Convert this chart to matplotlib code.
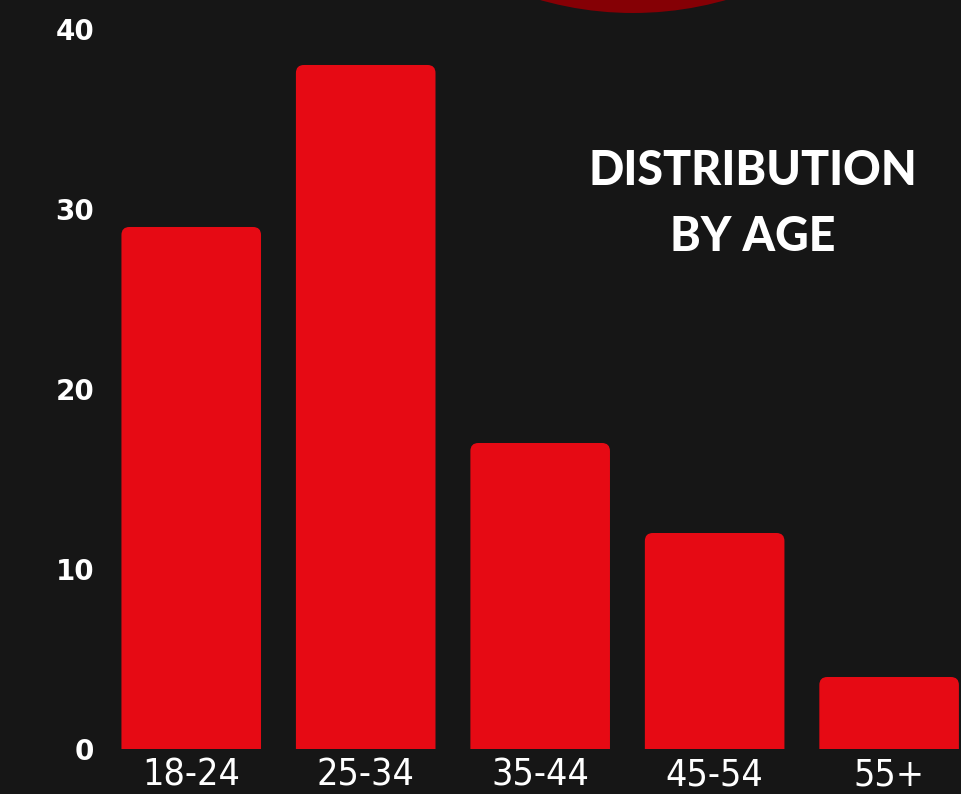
import matplotlib
matplotlib.use("Agg")
import matplotlib.pyplot as plt
from matplotlib.patches import FancyBboxPatch, Ellipse

categories = ["18-24", "25-34", "35-44", "45-54", "55+"]
values = [29, 38, 17, 12, 4]
yticks = [0, 10, 20, 30, 40]

BG = "#161616"
RED = "#E60A14"

W, H = 961, 794
fig = plt.figure(figsize=(W / 100, H / 100), dpi=100, facecolor=BG)

# decorative circle at top
fig.patches.append(Ellipse((633 / W, (H - 13 + 339) / H), 2 * 339 / W, 2 * 339 / H,
                           transform=fig.transFigure, facecolor="#850005",
                           edgecolor="none", zorder=0))

ax = fig.add_axes([104 / W, 45 / H, (W - 104) / W, (H - 45) / H])
ax.set_facecolor("none")
x = list(range(len(categories)))
bars = ax.bar(x, values, width=0.8, color=RED, alpha=0)
ax.set_xlim(-0.5, 4.412)
ax.set_ylim(0, 41.61)

xpx = (W - 104) / 4.912
ypx = (H - 45) / 41.61
aspect = xpx / ypx
r = 8 / xpx
for b in bars:
    p = FancyBboxPatch((b.get_x(), -2), b.get_width(), b.get_height() + 2,
                       boxstyle=f"round,pad=0,rounding_size={r}",
                       mutation_aspect=aspect, facecolor=RED, edgecolor="none",
                       clip_on=True, zorder=2)
    ax.add_patch(p)

for s in ax.spines.values():
    s.set_visible(False)
ax.set_yticks(yticks)
ax.set_yticklabels([str(v) for v in yticks], fontfamily="DejaVu Sans", fontsize=20, color="white",
                   fontweight="bold")
ax.set_xticks(x)
ax.set_xticklabels(categories, fontfamily="DejaVu Sans", fontstretch="condensed",
                   fontsize=27, color="white")
ax.tick_params(axis="both", length=0)
ax.tick_params(axis="y", pad=7)
ax.tick_params(axis="x", pad=6)
for lab in ax.get_yticklabels():
    lab.set_clip_on(False)

fig.text(753 / W, 1 - 204 / H, "DISTRIBUTION\nBY AGE", ha="center", va="center",
         fontfamily="Lato", fontweight=900, fontsize=33.5, color="white",
         linespacing=1.6)

fig.savefig("out.png", dpi=100, facecolor=BG)
